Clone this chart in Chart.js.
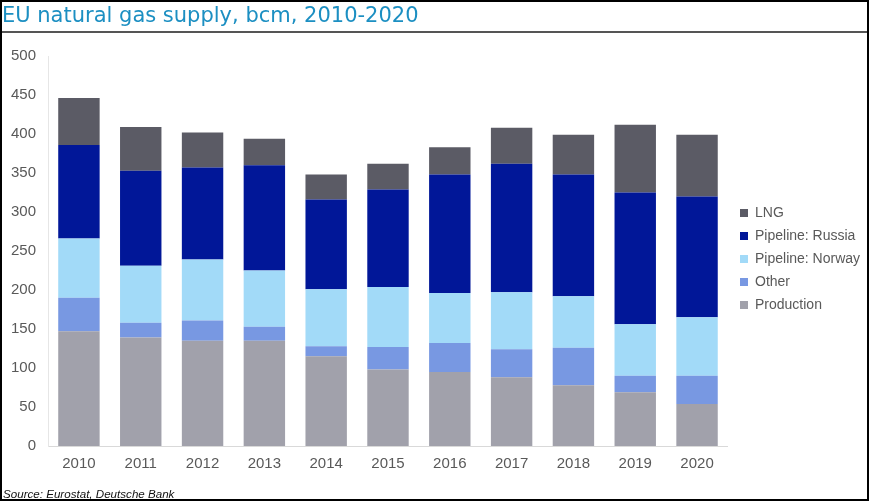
<!DOCTYPE html>
<html>
<head>
<meta charset="utf-8">
<script src="https://cdn.jsdelivr.net/npm/chart.js@4/dist/chart.umd.min.js"></script>
<style>
  html, body { margin: 0; padding: 0; background: #000; }
  #frame { position: relative; width: 869px; height: 501px; box-sizing: border-box; border: 2px solid #000; background: #fff; overflow: hidden; }
  #title { position: absolute; left: 0px; top: 1px; font-family: "DejaVu Sans", sans-serif; font-size: 21px; color: #1c8fc2; white-space: nowrap; }
  #rule { position: absolute; left: 0; right: 0; top: 29px; height: 2px; background: #555; }
  #source { position: absolute; left: 1px; top: 485px; font-family: "Liberation Sans", Arial, sans-serif; font-style: italic; font-size: 11.6px; color: #111; }
  #wrap { position: absolute; left: 0; top: 0; width: 865px; height: 497px; }
</style>
</head>
<body>
<div id="frame">
  <div id="wrap"><canvas id="c" width="865" height="497"></canvas></div>
  <div id="title">EU natural gas supply, bcm, 2010-2020</div>
  <div id="rule"></div>
  <div id="source">Source: Eurostat, Deutsche Bank</div>
</div>
<script>
const years = ["2010","2011","2012","2013","2014","2015","2016","2017","2018","2019","2020"];
const production = [147, 139, 135, 135, 115, 98, 95, 88, 78, 69, 54];
const other      = [43, 19, 26, 18, 13, 29, 37, 36, 48, 21, 36];
const norway     = [76, 73, 78, 72, 73, 77, 64, 73, 66, 66, 75];
const russia     = [120, 122, 118, 135, 115, 125, 152, 165, 156, 169, 155];
const lng        = [60, 56, 45, 34, 32, 33, 35, 46, 51, 87, 79];
const yTicks = [0, 50, 100, 150, 200, 250, 300, 350, 400, 450, 500];

const font = "'Liberation Sans', Arial, sans-serif";
const legendShift = {
  id: 'legendShift',
  afterLayout(chart) {
    const l = chart.legend;
    if (!l) return;
    l.left = 729; l.right = l.left + l.width;
    l.top -= 6; l.bottom -= 6;
  }
};
new Chart(document.getElementById('c'), {
  type: 'bar',
  data: {
    labels: years,
    datasets: [
      { label: 'Production', data: production, backgroundColor: '#a1a1ab' },
      { label: 'Other', data: other, backgroundColor: '#7898e2' },
      { label: 'Pipeline: Norway', data: norway, backgroundColor: '#a2daf8' },
      { label: 'Pipeline: Russia', data: russia, backgroundColor: '#011798' },
      { label: 'LNG', data: lng, backgroundColor: '#5b5b65' }
    ]
  },
  plugins: [legendShift],
  options: {
    responsive: false,
    animation: false,
    datasets: { bar: { barPercentage: 0.67, categoryPercentage: 1.0 } },
    layout: { padding: { top: 54, left: 5, right: 0, bottom: 25 } },
    plugins: {
      legend: {
        position: 'right',
        reverse: true,
        labels: { boxWidth: 8, boxHeight: 8, padding: 9, color: '#595959', font: { family: font, size: 14 } }
      },
      tooltip: { enabled: false }
    },
    scales: {
      x: {
        stacked: true,
        grid: { display: false },
        border: { display: true, color: '#d9d9d9' },
        ticks: { color: '#595959', font: { family: font, size: 15 }, padding: 1 }
      },
      y: {
        stacked: true,
        min: 0, max: 500,
        afterBuildTicks: (s) => { s.ticks = yTicks.map(v => ({ value: v })); },
        grid: { display: false },
        border: { display: true, color: '#e6e6e6' },
        ticks: { color: '#595959', font: { family: font, size: 15 }, padding: 4 }
      }
    }
  }
});
</script>
</body>
</html>
